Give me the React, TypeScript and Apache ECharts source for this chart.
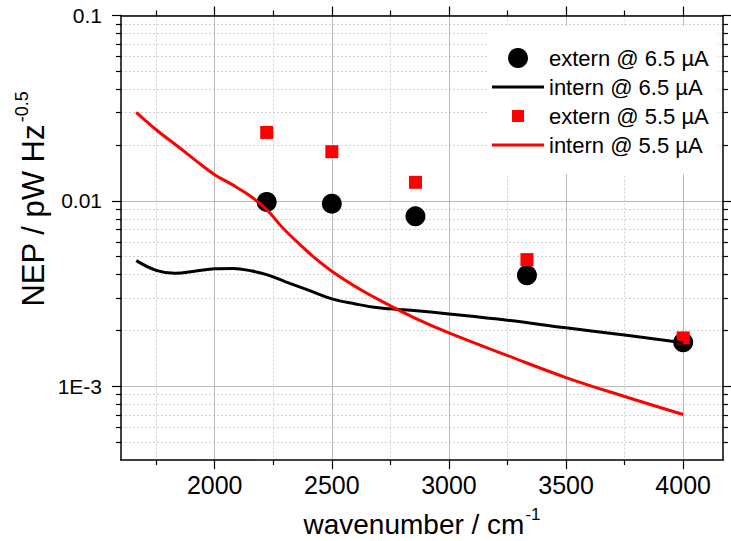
import { useEffect, useRef } from 'react';
import * as echarts from 'echarts';

// measured points (wavenumber / cm^-1)
const wavenumbers = [2222, 2500, 2857, 3333, 4000];
const extern65 = [0.00987, 0.00966, 0.00825, 0.00397, 0.001726];
const extern55 = [0.0234, 0.01842, 0.01259, 0.00482, 0.001823];

// intern curves
const intern65X = [1665, 1750, 1830, 1920, 2000, 2080, 2160, 2222, 2300, 2400, 2500, 2600, 2700, 2850, 3000, 3250, 3500, 3750, 4000];
const intern65Y = [0.00476, 0.00422, 0.00407, 0.00418, 0.0043, 0.00432, 0.00418, 0.004, 0.00367, 0.0033, 0.00296, 0.00278, 0.00265, 0.00256, 0.002455, 0.00227, 0.002065, 0.00189, 0.001714];
const intern55X = [1665, 1750, 1850, 1925, 2000, 2075, 2150, 2222, 2290, 2363, 2430, 2500, 2600, 2700, 2850, 3000, 3250, 3500, 3750, 4000];
const intern55Y = [0.03, 0.0242, 0.01935, 0.01627, 0.01384, 0.01223, 0.01066, 0.00897, 0.00716, 0.00583, 0.00489, 0.00417, 0.00345, 0.00293, 0.002346, 0.00194, 0.001464, 0.001114, 0.00088, 0.000704];

const seriesNames = ['extern @ 6.5 µA', 'intern @ 6.5 µA', 'extern @ 5.5 µA', 'intern @ 5.5 µA'];

// axes
const xMin = 1600;
const xMax = 4170;
const xMajorTicks = [2000, 2500, 3000, 3500, 4000];
const xMinorTicks = [1750, 2250, 2750, 3250, 3750];
const yMin = 0.0004;
const yMax = 0.1;
const yMajorTicks = [0.001, 0.01, 0.1];
const yTickLabels = ['1E-3', '0.01', '0.1'];
const yMinorTicks = [
  0.0005, 0.0006, 0.0007, 0.0008, 0.0009,
  0.002, 0.003, 0.004, 0.005, 0.006, 0.007, 0.008, 0.009,
  0.02, 0.03, 0.04, 0.05, 0.06, 0.07, 0.08, 0.09,
];

const FONT = '"Liberation Sans", Arial, sans-serif';
const lg = (v: number) => Math.log10(v);

// legend icons: tiny corner specks keep a 52x20 box so the visible shape keeps its size
const SPECKS = 'M0,0H0.01V0.01H0Z M52,20H51.99V19.99H52Z';
const ICON_LINE = `path://${SPECKS} M0,8.5H52V11.5H0Z`;
const ICON_SQUARE = `path://${SPECKS} M20,4H32V16H20Z`;

export default function App() {
  const ref = useRef<HTMLDivElement>(null);

  useEffect(() => {
    if (!ref.current) return;
    const chart = echarts.init(ref.current, undefined, { renderer: 'svg' });

    const frame = { show: true, onZero: false, lineStyle: { color: '#000', width: 1.5 } };
    const majorTick = (vals: number[]) => ({ show: true, customValues: vals, length: 9, lineStyle: { color: '#000', width: 1.2 } });
    const minorTick = (vals: number[]) => ({ show: true, customValues: vals, length: 5, lineStyle: { color: '#000', width: 1.2 } });
    const majorSplit = { show: true, lineStyle: { color: '#bcbcbc', width: 1 } };
    const minorSplit = { show: true, lineStyle: { color: '#d2d2d2', width: 1, type: [2, 2] } };
    const noLabel = { show: false };
    const noLine = { show: false };

    const yMajorLog = yMajorTicks.map(lg);
    const yMinorLog = yMinorTicks.map(lg);
    const yLo = lg(yMin);
    const yHi = lg(yMax);

    const xBase = { type: 'value', min: xMin, max: xMax, gridIndex: 0 };
    const yBase = { type: 'value', min: yLo, max: yHi, gridIndex: 0 };

    const labelFor = (v: number) => {
      const i = yMajorLog.findIndex((t) => Math.abs(t - v) < 1e-6);
      return i >= 0 ? yTickLabels[i] : '';
    };

    chart.setOption({
      animation: false,
      backgroundColor: '#fff',
      grid: { left: 121, right: 8, top: 15.5, bottom: 81, containLabel: false, outerBoundsMode: 'none' },
      xAxis: [
        {
          ...xBase,
          position: 'bottom',
          axisLine: frame,
          axisTick: majorTick(xMajorTicks),
          axisLabel: { customValues: xMajorTicks, fontSize: 25, margin: 12, color: '#000', fontFamily: FONT, formatter: (v: number) => String(v) },
          splitLine: majorSplit,
          name: '{a|wavenumber / cm}{b|-1}',
          nameLocation: 'middle',
          nameGap: 46,
          nameTextStyle: {
            rich: {
              a: { fontSize: 28, fontFamily: FONT, color: '#000', lineHeight: 32, verticalAlign: 'bottom' },
              b: { fontSize: 17, fontFamily: FONT, color: '#000', lineHeight: 32, verticalAlign: 'top', padding: [0, 0, 0, 1] },
            },
          },
        },
        { ...xBase, position: 'bottom', axisLine: noLine, axisTick: minorTick(xMinorTicks), axisLabel: noLabel, splitLine: minorSplit },
        { ...xBase, position: 'top', axisLine: frame, axisTick: majorTick(xMajorTicks), axisLabel: noLabel, splitLine: { show: false } },
        { ...xBase, position: 'top', axisLine: noLine, axisTick: minorTick(xMinorTicks), axisLabel: noLabel, splitLine: { show: false } },
      ],
      yAxis: [
        {
          ...yBase,
          position: 'left',
          axisLine: frame,
          axisTick: majorTick(yMajorLog),
          axisLabel: { customValues: yMajorLog, fontSize: 21, margin: 19, color: '#000', fontFamily: FONT, formatter: (v: number) => labelFor(v) },
          splitLine: majorSplit,
        },
        { ...yBase, position: 'left', axisLine: noLine, axisTick: minorTick(yMinorLog), axisLabel: noLabel, splitLine: minorSplit },
        { ...yBase, position: 'right', axisLine: frame, axisTick: majorTick(yMajorLog), axisLabel: noLabel, splitLine: { show: false } },
        { ...yBase, position: 'right', axisLine: noLine, axisTick: minorTick(yMinorLog), axisLabel: noLabel, splitLine: { show: false } },
      ],
      legend: {
        orient: 'vertical',
        left: 487,
        top: 26,
        padding: [21, 9, 18, 5],
        itemGap: 7,
        itemWidth: 52,
        itemHeight: 20,
        backgroundColor: '#fff',
        textStyle: { fontSize: 22, color: '#000', fontFamily: FONT, lineHeight: 20 },
        data: [
          { name: seriesNames[0], icon: 'circle' },
          { name: seriesNames[1], icon: ICON_LINE },
          { name: seriesNames[2], icon: ICON_SQUARE },
          { name: seriesNames[3], icon: ICON_LINE },
        ],
      },
      graphic: [
        {
          type: 'text',
          x: 31,
          y: 199,
          rotation: Math.PI / 2,
          style: {
            text: '{a|NEP / pW Hz}{b|-0.5}',
            align: 'center',
            verticalAlign: 'middle',
            rich: {
              a: { fontSize: 31, fontFamily: FONT, fill: '#000', lineHeight: 36, verticalAlign: 'bottom' },
              b: { fontSize: 18, fontFamily: FONT, fill: '#000', lineHeight: 36, verticalAlign: 'top', padding: [0, 0, 0, 2] },
            },
          },
        },
      ],
      series: [
        {
          name: seriesNames[0],
          type: 'scatter',
          symbol: 'circle',
          symbolSize: 20,
          itemStyle: { color: '#000', opacity: 1 },
          data: wavenumbers.map((x, i) => [x, lg(extern65[i])]),
        },
        {
          name: seriesNames[1],
          type: 'line',
          smooth: 0.4,
          symbol: 'none',
          showSymbol: false,
          itemStyle: { color: '#000' },
          lineStyle: { color: '#000', width: 3 },
          data: intern65X.map((x, i) => [x, lg(intern65Y[i])]),
        },
        {
          name: seriesNames[2],
          type: 'scatter',
          symbol: 'rect',
          symbolSize: 13,
          itemStyle: { color: '#ff0000', opacity: 1 },
          data: wavenumbers.map((x, i) => [x, lg(extern55[i])]),
        },
        {
          name: seriesNames[3],
          type: 'line',
          smooth: 0.4,
          symbol: 'none',
          showSymbol: false,
          itemStyle: { color: '#ff0000' },
          lineStyle: { color: '#ff0000', width: 3 },
          data: intern55X.map((x, i) => [x, lg(intern55Y[i])]),
        },
      ],
    });

    return () => chart.dispose();
  }, []);

  return <div ref={ref} style={{ position: 'fixed', left: 0, top: 0, width: 731, height: 541 }} />;
}
